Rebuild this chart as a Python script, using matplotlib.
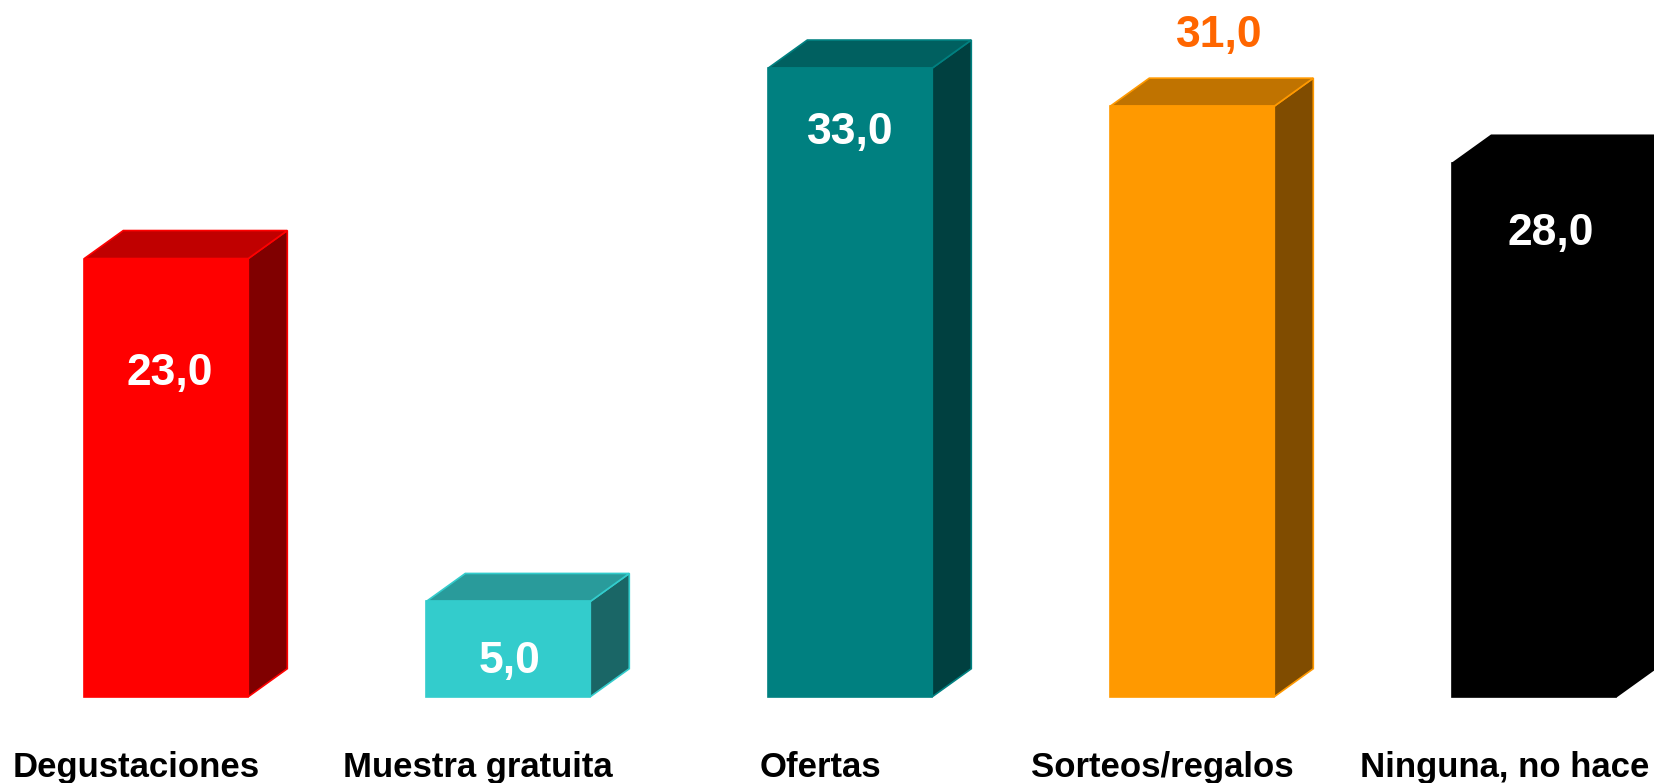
import matplotlib
matplotlib.use("Agg")
import matplotlib.pyplot as plt
from matplotlib.patches import Polygon

plt.rcParams['font.family'] = ['Liberation Sans', 'DejaVu Sans']

categories = ["Degustaciones", "Muestra gratuita", "Ofertas", "Sorteos/regalos", "Ninguna, no hace"]
values = [23.0, 5.0, 33.0, 31.0, 28.0]
value_labels = ["23,0", "5,0", "33,0", "31,0", "28,0"]

front_colors = ["#FF0000", "#33CCCC", "#008080", "#FF9900", "#000000"]
top_colors = ["#C00000", "#299B9B", "#006060", "#C07300", "#000000"]
side_colors = ["#800000", "#1A6666", "#004040", "#804C00", "#000000"]
edge_colors = ["#FF0000", "#33CCCC", "#008080", "#FF9900", "#000000"]
label_colors = ["white", "white", "white", "#FF6600", "white"]
# label vertical positions (data units) and horizontal shifts (px)
label_y = [16.95, 1.83, 29.6, 34.7, 24.3]
label_dx_px = [3, 1, 0, 27, 16]

W, H = 1654, 783
fig = plt.figure(figsize=(W / 100, H / 100), dpi=100)
ax = fig.add_axes([0, 0, 1, 1])

px_per_x = 342.0
px_per_y = 19.05
x0_px = 166.3
base_px = H - 696.7
ax.set_xlim(-x0_px / px_per_x, (W - x0_px) / px_per_x)
ax.set_ylim(-base_px / px_per_y, (H - base_px) / px_per_y)
ax.axis('off')

bar_w = 164.0 / px_per_x
dx = 39.0 / px_per_x
dy = 28.0 / px_per_y

xs = list(range(len(categories)))
for i, (x, v) in enumerate(zip(xs, values)):
    l, r = x - bar_w / 2, x + bar_w / 2
    side = Polygon([(r, 0), (r + dx, dy), (r + dx, v + dy), (r, v)], closed=True,
                   facecolor=side_colors[i], edgecolor=edge_colors[i], linewidth=1.2, zorder=2)
    ax.add_patch(side)
    top = Polygon([(l, v), (r, v), (r + dx, v + dy), (l + dx, v + dy)], closed=True,
                  facecolor=top_colors[i], edgecolor=edge_colors[i], linewidth=1.2, zorder=2)
    ax.add_patch(top)

ax.bar(xs, values, width=bar_w, color=front_colors, edgecolor=edge_colors, linewidth=1.2, zorder=3)

for i, x in enumerate(xs):
    ax.text(x + label_dx_px[i] / px_per_x, label_y[i], value_labels[i], color=label_colors[i],
            fontsize=32, fontweight='bold', ha='center', va='center', zorder=5)
    ax.text(x - 30.0 / px_per_x, -3.70, categories[i], color='black',
            fontsize=25, fontweight='bold', ha='center', va='center', zorder=5)

fig.savefig("out.png", dpi=100, facecolor='white')
